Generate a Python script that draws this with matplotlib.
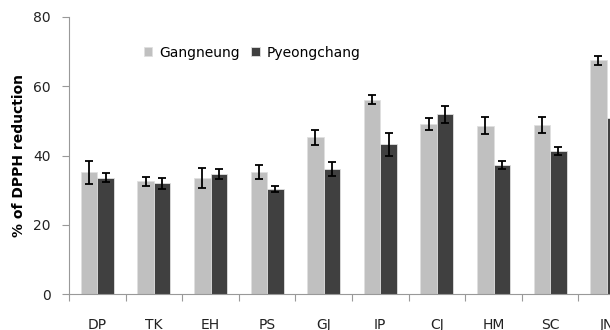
import matplotlib
matplotlib.use("Agg")
import matplotlib.pyplot as plt
import numpy as np

categories = ["DP", "TK", "EH", "PS", "GJ", "IP", "CJ", "HM", "SC", "JN"]
gangneung = [35.2, 32.5, 33.6, 35.2, 45.2, 56.1, 49.0, 48.6, 48.8, 67.5]
gangneung_err = [3.3, 1.2, 2.9, 2.1, 2.3, 1.25, 1.75, 2.4, 2.3, 1.3]
pyeongchang = [33.6, 32.0, 34.6, 30.4, 36.1, 43.3, 51.9, 37.2, 41.3, 50.9]
pyeongchang_err = [1.3, 1.6, 1.5, 0.8, 1.9, 3.3, 2.5, 1.1, 1.2, 2.0]
yticks = [0, 20, 40, 60, 80]

W, H = 610, 330
fig = plt.figure(figsize=(W / 100, H / 100), dpi=100)
left, right, bottom, top = 69, 635, 294, 17
ax = fig.add_axes([left / W, (H - bottom) / H, (right - left) / W, (bottom - top) / H])

x = np.arange(len(categories))
bw = 0.29
gray = "#c0c0c0"
dark = "#404040"
ax.bar(x - bw / 2, gangneung, bw, color=gray, edgecolor="#e0e0e0", linewidth=0.6,
       label="Gangneung", zorder=2)
ax.bar(x + bw / 2, pyeongchang, bw, color=dark, edgecolor="#e0e0e0", linewidth=0.6,
       label="Pyeongchang", zorder=2)
ax.errorbar(x - bw / 2, gangneung, yerr=gangneung_err, fmt="none", ecolor="black",
            elinewidth=1.3, capsize=3.2, capthick=1.3, zorder=3)
ax.errorbar(x + bw / 2, pyeongchang, yerr=pyeongchang_err, fmt="none", ecolor="black",
            elinewidth=1.3, capsize=3.2, capthick=1.3, zorder=3)

ax.set_xlim(-0.5, len(categories) - 0.5)
ax.set_ylim(0, 80)
ax.set_yticks(yticks)
ax.set_xticks(np.arange(len(categories) + 1) - 0.5)
ax.set_xticklabels([])
ax.set_xticks(x, minor=True)
ax.set_xticklabels(categories, minor=True)
ax.tick_params(axis="x", which="major", direction="out", length=5, color="#999999", width=0.8)
ax.tick_params(axis="x", which="minor", length=0, pad=17, labelsize=10, labelcolor="#222222")
ax.tick_params(axis="y", direction="out", length=5, color="#999999", width=0.8,
               labelsize=10, labelcolor="#222222", pad=8)

for s in ["top", "right"]:
    ax.spines[s].set_visible(False)
for s in ["left", "bottom"]:
    ax.spines[s].set_color("#999999")
    ax.spines[s].set_linewidth(0.8)

ax.set_ylabel("% of DPPH reduction", fontsize=10, fontweight="bold", labelpad=5)

ax.legend(loc="upper left", bbox_to_anchor=((138 - left) / (right - left), (bottom - 40) / (bottom - top)),
          ncol=2, frameon=False, fontsize=10, handlelength=0.6, handleheight=0.6,
          handletextpad=0.5, columnspacing=0.85, borderaxespad=0)

fig.savefig("out.png", dpi=100)
